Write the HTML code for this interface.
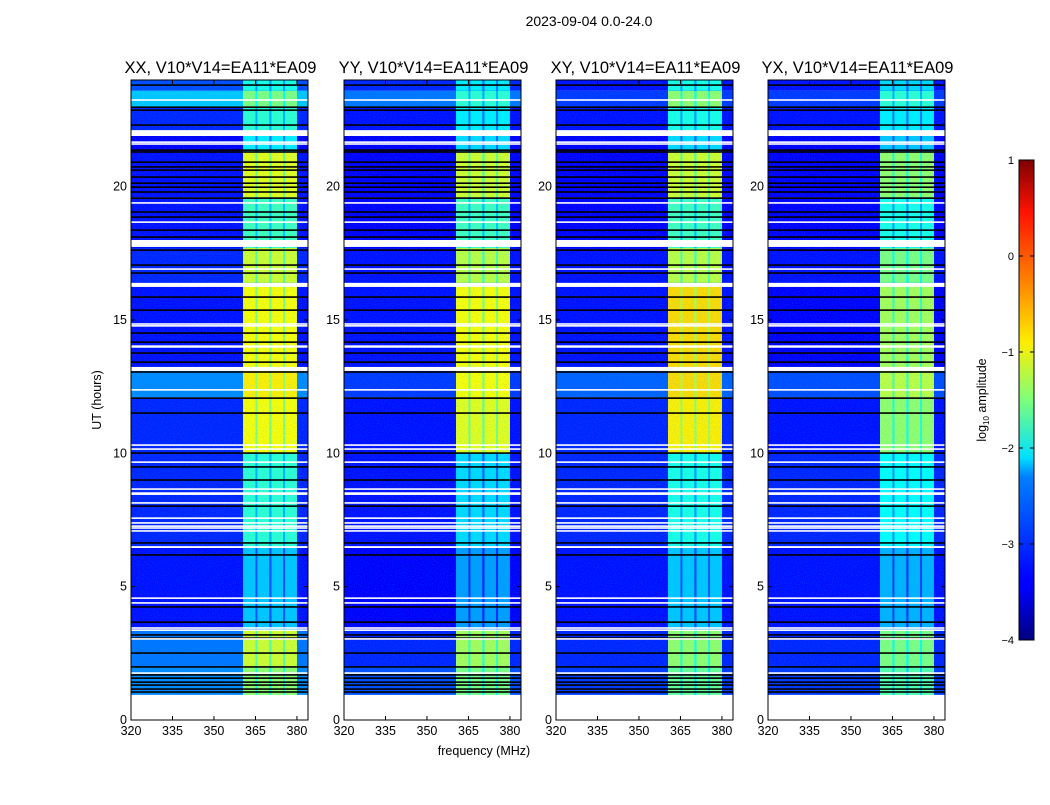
<!DOCTYPE html>
<html><head><meta charset="utf-8">
<style>
body{margin:0;background:#fff;}
svg text{font-family:"Liberation Sans",sans-serif;fill:#000;}
</style></head>
<body>
<svg id="fig" width="1050" height="800" viewBox="0 0 1050 800" xmlns="http://www.w3.org/2000/svg">
<defs>
<filter id="noise" x="0" y="0" width="100%" height="100%">
<feTurbulence type="fractalNoise" baseFrequency="0.9" numOctaves="1" seed="3"/>
<feColorMatrix type="matrix" values="0 0 0 0 0  0 0 0 0 0.4  0 0 0 0 1  0 0 0 -2.2 1.2"/>
</filter>
<linearGradient id="jet" x1="0" y1="1" x2="0" y2="0">
<stop offset="0" stop-color="#00007f"/><stop offset="0.11" stop-color="#0000ff"/>
<stop offset="0.125" stop-color="#0000ff"/><stop offset="0.34" stop-color="#0080ff"/>
<stop offset="0.38" stop-color="#00e0ff"/><stop offset="0.5" stop-color="#7dff7a"/>
<stop offset="0.62" stop-color="#ffee00"/><stop offset="0.75" stop-color="#ff8000"/>
<stop offset="0.89" stop-color="#ff1300"/><stop offset="1" stop-color="#7f0000"/>
</linearGradient>
</defs>
<text x="589" y="26" font-size="14" text-anchor="middle">2023-09-04 0.0-24.0</text>
<text x="484" y="755" font-size="12.5" text-anchor="middle">frequency (MHz)</text>
<text transform="translate(101,400) rotate(-90)" font-size="12.5" text-anchor="middle">UT (hours)</text>
<g id="panels"></g>
<g>
<rect x="1019" y="160" width="15" height="480" fill="url(#jet)" stroke="#000" stroke-width="1"/>
<g id="cbticks"></g>
<text transform="translate(986,400) rotate(-90)" font-size="12.5" text-anchor="middle">log<tspan font-size="8" dy="3">10</tspan><tspan dy="-3"> amplitude</tspan></text>
</g>
</svg>
<script>
const panelNames=["XX","YY","XY","YX"];
const segStart=[0.94,2.0,3.4,6.5,10.0,12.1,13.1,16.4,17.7,19.6,21.3,22.1,23.0,23.6];
const segEnd  =[2.0,3.4,6.5,10.0,12.1,13.1,16.4,17.7,19.6,21.3,22.1,23.0,23.6,24.0];
const bgXX=[-2.7,-2.8,-3.3,-3.2,-3.2,-2.7,-3.3,-3.2,-3.3,-3.3,-3.4,-3.2,-2.4,-3.0];
const bgYY=[-3.0,-3.2,-3.4,-3.3,-3.3,-3.1,-3.3,-3.3,-3.4,-3.4,-3.4,-3.3,-2.8,-3.2];
const bgXY=[-3.1,-3.2,-3.3,-3.2,-3.2,-2.9,-3.3,-3.3,-3.4,-3.4,-3.4,-3.3,-3.1,-3.3];
const bgYX=[-3.1,-3.2,-3.3,-3.2,-3.3,-3.0,-3.4,-3.3,-3.4,-3.4,-3.4,-3.3,-3.1,-3.3];
const bandXX=[-1.4,-1.1,-2.4,-1.9,-0.9,-0.8,-0.9,-1.1,-1.8,-1.0,-2.2,-1.9,-1.5,-2.0];
const bandYY=[-1.5,-1.3,-2.6,-2.3,-1.0,-0.9,-0.9,-1.2,-1.8,-1.1,-2.3,-2.2,-1.9,-2.2];
const bandXY=[-1.6,-1.4,-2.4,-2.0,-0.8,-0.7,-0.7,-1.2,-1.8,-1.1,-2.3,-2.0,-1.4,-2.0];
const bandYX=[-1.7,-1.5,-2.5,-2.1,-1.4,-1.2,-1.3,-1.5,-2.0,-1.4,-2.4,-2.2,-1.9,-2.3];
const subStart=[360.5,365.7,370.8,375.7];
const subEnd=[365.0,370.0,375.0,380.0];
const whiteLines=[23.25,21.67,21.6,19.39,18.67,16.91,14.85,14.78,14.02,13.99,12.38,10.31,10.16,9.67,8.66,8.51,8.47,8.14,7.57,7.39,7.27,7.2,7.09,4.57,4.39,3.45,3.37,3.04,1.76];
const whiteBlockStart=[0,21.9,17.74,16.24,13.09,6.45];
const whiteBlockEnd=[0.94,22.12,18.0,16.39,13.24,6.52];
const blackLines=[23.81,22.98,22.87,22.31,21.37,21.3,20.92,20.74,20.62,20.36,20.13,19.98,19.8,19.57,19.05,18.86,18.37,18.11,17.62,17.06,16.76,15.86,15.37,14.51,14.17,13.76,13.42,13.05,12.07,11.51,10.01,9.49,9.0,8.02,6.64,6.19,4.24,3.67,3.19,3.07,2.51,1.99,1.69,1.57,1.42,1.31,1.16,1.05];
const xTicks=[320,335,350,365,380];
const yTicks=[0,5,10,15,20];
const cbTicks=[1,0,-1,-2,-3,-4];
const panelX=[131,344,556,768];

const bgs=[bgXX,bgYY,bgXY,bgYX], bands=[bandXX,bandYY,bandXY,bandYX];
const PW=177, PT=80, PB=720, FMIN=320, FMAX=384, HMAX=24;
const NS="http://www.w3.org/2000/svg";
function yS(h){return PB-(h/HMAX)*(PB-PT);}
function xS(x0,f){return x0+(f-FMIN)/(FMAX-FMIN)*PW;}
function jet(v){
  let t=Math.max(0,Math.min(1,(v+4)/5));
  const r=Math.max(0,Math.min(1,1.5-Math.abs(4*t-3)));
  const g=Math.max(0,Math.min(1,1.5-Math.abs(4*t-2)));
  const b=Math.max(0,Math.min(1,1.5-Math.abs(4*t-1)));
  return `rgb(${Math.round(r*255)},${Math.round(g*255)},${Math.round(b*255)})`;
}
function mk(tag,attrs,parent){const e=document.createElementNS(NS,tag);for(const k in attrs)e.setAttribute(k,attrs[k]);parent.appendChild(e);return e;}
const root=document.getElementById('panels');
panelNames.forEach((nm,p)=>{
  const x0=panelX[p];
  const g=mk('g',{},root);
  
  
  const cp=mk('clipPath',{id:'cp'+p},g);
  mk('rect',{x:x0,y:PT,width:PW,height:PB-PT},cp);
  const img=mk('g',{'clip-path':'url(#cp'+p+')'},g);
  
  
  for(let i=0;i<segStart.length;i++){
    const y1=yS(segEnd[i]), y2=yS(segStart[i]);
    const r=mk('rect',{x:x0,y:y1,width:PW,height:y2-y1,fill:jet(bgs[p][i])},img);
    
    
    const gx1=xS(x0,subStart[0]), gx2=xS(x0,subEnd[3]);
    const gr=mk('rect',{x:gx1,y:y1,width:gx2-gx1,height:y2-y1,fill:jet(bands[p][i]-0.6)},img);
    
    
    for(let s=0;s<subStart.length;s++){
      const a=xS(x0,subStart[s]), b=xS(x0,subEnd[s]);
      const br=mk('rect',{x:a,y:y1,width:b-a,height:y2-y1,fill:jet(bands[p][i])},img);
      
      
    }
  }
  mk('rect',{x:x0,y:PT,width:PW,height:PB-PT,filter:'url(#noise)',opacity:0.3},img);
  blackLines.forEach(h=>{
    const l=mk('rect',{x:x0,y:yS(h)-0.8,width:PW,height:1.6,fill:'#000'},img);
    
    
  });
  whiteLines.forEach(h=>{
    const l=mk('rect',{x:x0,y:yS(h)-0.8,width:PW,height:1.6,fill:'#fff'},img);
    
    
  });
  whiteBlockStart.forEach((h,i)=>{
    const y1=yS(whiteBlockEnd[i]), y2=yS(h);
    const l=mk('rect',{x:x0,y:y1,width:PW,height:y2-y1,fill:'#fff'},img);
    
    
  });
  const fr=mk('rect',{x:x0,y:PT,width:PW,height:PB-PT,fill:'none',stroke:'#000','stroke-width':1},g);
  
  
  const t=mk('text',{x:x0+PW/2+1,y:PT-7,'font-size':16.5,'text-anchor':'middle'},g);
  t.textContent=nm+', V10*V14=EA11*EA09';
  
  
  xTicks.forEach(f=>{
    const x=xS(x0,f);
    mk('line',{x1:x,x2:x,y1:PB,y2:PB-4,stroke:'#000'},g);
    mk('line',{x1:x,x2:x,y1:PT,y2:PT+4,stroke:'#000'},g);
    const tl=mk('text',{x:x,y:PB+15,'font-size':12.5,'text-anchor':'middle'},g);
    tl.textContent=f;
    
    
  });
  yTicks.forEach(h=>{
    const y=yS(h);
    mk('line',{x1:x0,x2:x0+4,y1:y,y2:y,stroke:'#000'},g);
    mk('line',{x1:x0+PW,x2:x0+PW-4,y1:y,y2:y,stroke:'#000'},g);
    const tl=mk('text',{x:x0-4,y:y+4,'font-size':12.5,'text-anchor':'end'},g);
    tl.textContent=h;
    
    
  });
});
const cb=document.getElementById('cbticks');
cbTicks.forEach(v=>{
  const y=640-(v+4)/5*480;
  mk('line',{x1:1019,x2:1023,y1:y,y2:y,stroke:'#000'},cb);
  mk('line',{x1:1030,x2:1034,y1:y,y2:y,stroke:'#000'},cb);
  const tl=mk('text',{x:1014,y:y+4,'font-size':11,'text-anchor':'end'},cb);
  tl.textContent=(v<0?'\u2212'+(-v):String(v));
  
  
});
</script>
</body></html>
